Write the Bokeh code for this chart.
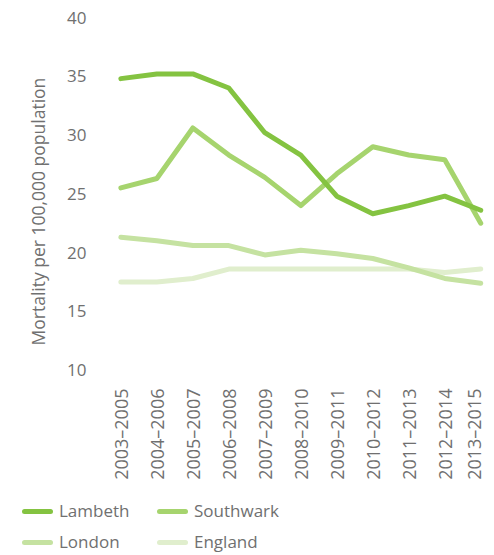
from bokeh.plotting import figure
from bokeh.models import FixedTicker, Range1d, Title, Div
from bokeh.layouts import column
from bokeh.embed import file_html
from bokeh.resources import INLINE

periods = ["2003\u20132005", "2004\u20132006", "2005\u20132007", "2006\u20132008", "2007\u20132009",
           "2008\u20132010", "2009\u20132011", "2010\u20132012", "2011\u20132013", "2012\u20132014",
           "2013\u20132015"]
lambeth = [34.8, 35.2, 35.2, 34.0, 30.2, 28.3, 24.8, 23.3, 24.0, 24.8, 23.6]
southwark = [25.5, 26.3, 30.6, 28.3, 26.4, 24.0, 26.7, 29.0, 28.3, 27.9, 22.5]
london = [21.3, 21.0, 20.6, 20.6, 19.8, 20.2, 19.9, 19.5, 18.7, 17.8, 17.4]
england = [17.5, 17.5, 17.8, 18.6, 18.6, 18.6, 18.6, 18.6, 18.6, 18.3, 18.6]
y_ticks = [10, 15, 20, 25, 30, 35, 40]
y_title = "Mortality per 100,000 population"
legend_rows = [["Lambeth", "Southwark"], ["London", "England"]]

FONT = "Open Sans"
GREY = "#707070"
COLORS = {"Lambeth": "#84c341", "Southwark": "#a6d46e", "London": "#c5e2a1", "England": "#e0eecd"}

x = list(range(len(periods)))

p = figure(width=478, height=484, output_backend="svg", toolbar_location=None,
           x_range=Range1d(-0.51, 10.16), y_range=Range1d(9.8, 40.17),
           min_border_left=80, min_border_right=0, min_border_top=7, min_border_bottom=120)
p.outline_line_color = None
p.grid.grid_line_color = None

p.yaxis.ticker = FixedTicker(ticks=y_ticks)
p.xaxis.ticker = FixedTicker(ticks=x)
p.xaxis.major_label_overrides = {i: s for i, s in enumerate(periods)}
p.xaxis.major_label_orientation = 1.5707963
for ax in (p.xaxis, p.yaxis):
    ax.axis_line_color = None
    ax.major_tick_line_color = None
    ax.minor_tick_line_color = None
    ax.major_label_text_color = GREY
    ax.major_label_text_font = FONT
    ax.major_label_text_font_size = "17px"
p.xaxis.major_label_text_font_size = "18px"
p.xaxis.major_label_standoff = 10
p.yaxis.major_label_standoff = 10

t = Title(text=y_title, align="left", offset=27, text_font=FONT, text_font_size="17.5px",
          text_font_style="normal", text_color=GREY, standoff=30)
p.add_layout(t, "left")

for name, vals in [("England", england), ("London", london), ("Southwark", southwark), ("Lambeth", lambeth)]:
    p.line(x, vals, line_color=COLORS[name], line_width=5, line_cap="round", line_join="round")

# legend below the axis labels
row_centers = [19, 50]
col_x = [14, 149]
parts = []
for r, row in enumerate(legend_rows):
    cy = row_centers[r]
    for c, name in enumerate(row):
        sx = col_x[c]
        parts.append(
            f'<span style="position:absolute;left:{sx}px;top:{cy - 2.5}px;width:31px;height:5px;'
            f'border-radius:3px;background:{COLORS[name]};"></span>'
            f'<span style="position:absolute;left:{sx + 37}px;top:{cy - 10}px;line-height:20px;'
            f'white-space:nowrap;">{name}</span>')
html = (f'<div style="position:relative;width:478px;height:60px;font-family:\'{FONT}\';'
        f'font-size:17px;color:{GREY};">' + "".join(parts) + '</div>')
legend_div = Div(text=html, width=478, height=60, margin=(0, 0, 0, 0))

layout = column(p, legend_div, spacing=0, margin=(8, 0, 0, 8))
open("out.html", "w").write(file_html(layout, INLINE))
